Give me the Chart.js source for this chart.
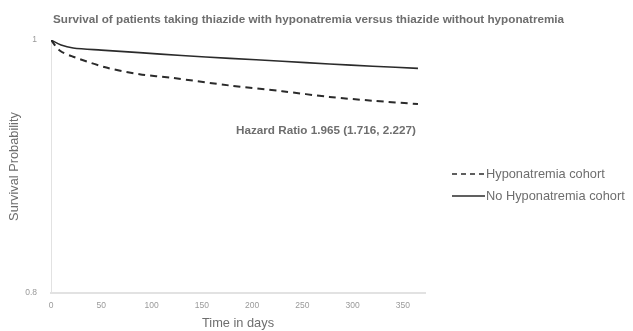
<!DOCTYPE html>
<html>
<head>
<meta charset="utf-8">
<script src="https://cdn.jsdelivr.net/npm/chart.js@4"></script>
<style>
  html, body { margin: 0; padding: 0; background: #fff; }
  #wrap { width: 633px; height: 331px; }
</style>
</head>
<body>
<div id="wrap"><canvas id="chart" width="633" height="331"></canvas></div>
<script>
// values
const hypoDays = [0, 9, 22, 56, 88, 121, 178, 230, 277, 320, 365];
const hypoSurv = [1.0, 0.9915, 0.9868, 0.978, 0.973, 0.970, 0.964, 0.9595, 0.955, 0.952, 0.9494];
const noHypoDays = [0, 10, 22, 50, 88, 130, 178, 230, 277, 320, 365];
const noHypoSurv = [1.0, 0.996, 0.9937, 0.992, 0.990, 0.9877, 0.9855, 0.9832, 0.981, 0.9793, 0.9776];
const xTicks = [0, 50, 100, 150, 200, 250, 300, 350];
const yTicks = [0.8, 1];

const titleText = "Survival of patients taking thiazide with hyponatremia versus thiazide without hyponatremia";
const hazardText = "Hazard Ratio 1.965 (1.716, 2.227)";
const legendLabels = ["Hyponatremia cohort", "No Hyponatremia cohort"];

const lineColor = "#2b2b2b";
const textGrey = "#6e6e6e";
const font = "'Liberation Sans', Arial, sans-serif";

function toPoints(xs, ys) {
  return xs.map((x, i) => ({ x: x, y: ys[i] }));
}

// title, hazard ratio note and legend drawn on the canvas
const extras = {
  id: "extras",
  afterDraw(chart) {
    const ctx = chart.ctx;
    ctx.save();
    ctx.fillStyle = textGrey;
    ctx.textBaseline = "middle";
    ctx.textAlign = "left";
    ctx.font = "bold 11.7px " + font;
    ctx.fillText(titleText, 53, 20);

    ctx.fillText(hazardText, 236, 131);

    // legend
    const lx = 452;
    const rows = [174, 196];
    ctx.font = "12.8px " + font;
    rows.forEach((y, i) => {
      ctx.strokeStyle = lineColor;
      ctx.lineWidth = 1.6;
      ctx.setLineDash(i === 0 ? [5, 4] : []);
      ctx.beginPath();
      ctx.moveTo(lx, y);
      ctx.lineTo(lx + 33, y);
      ctx.stroke();
      ctx.setLineDash([]);
      ctx.fillStyle = textGrey;
      ctx.fillText(legendLabels[i], lx + 34, y);
    });
    ctx.restore();
  }
};

const config = {
  type: "line",
  data: {
    datasets: [
      {
        label: legendLabels[0],
        data: toPoints(hypoDays, hypoSurv),
        borderColor: lineColor,
        borderWidth: 2,
        borderDash: [7, 5],
        pointRadius: 0,
        tension: 0.3,
        fill: false
      },
      {
        label: legendLabels[1],
        data: toPoints(noHypoDays, noHypoSurv),
        borderColor: lineColor,
        borderWidth: 1.6,
        pointRadius: 0,
        tension: 0.3,
        fill: false
      }
    ]
  },
  options: {
    responsive: false,
    animation: false,
    layout: { padding: { top: 40, right: 208, left: 0, bottom: 0 } },
    plugins: {
      legend: { display: false },
      title: { display: false },
      tooltip: { enabled: false }
    },
    scales: {
      x: {
        type: "linear",
        min: 0,
        max: 372,
        afterBuildTicks(scale) {
          scale.ticks = xTicks.map(v => ({ value: v }));
        },
        grid: { display: false, drawTicks: false },
        border: { color: "#e2e2e2", width: 2 },
        ticks: { color: "#9a9a9a", font: { size: 8.5, family: font }, padding: 8 },
        title: {
          display: true,
          text: "Time in days",
          color: textGrey,
          font: { size: 12.8, family: font },
          padding: { top: 0, bottom: 0 }
        },
        afterFit(scale) { scale.height = 38; }
      },
      y: {
        type: "linear",
        min: 0.8,
        max: 1,
        afterBuildTicks(scale) {
          scale.ticks = yTicks.map(v => ({ value: v }));
        },
        grid: { display: false, drawTicks: false },
        border: { color: "#e2e2e2", width: 1 },
        ticks: {
          color: "#9a9a9a",
          font: { size: 8.5, family: font },
          padding: 14,
          callback: v => (v === 1 ? "1" : v.toFixed(1))
        },
        title: {
          display: true,
          text: "Survival Probability",
          color: textGrey,
          font: { size: 12.8, family: font },
          padding: { top: 7, bottom: 0 }
        },
        afterFit(scale) { scale.width = 51; }
      }
    }
  },
  plugins: [extras]
};

const myChart = new Chart(document.getElementById("chart"), config);
</script>
</body>
</html>
